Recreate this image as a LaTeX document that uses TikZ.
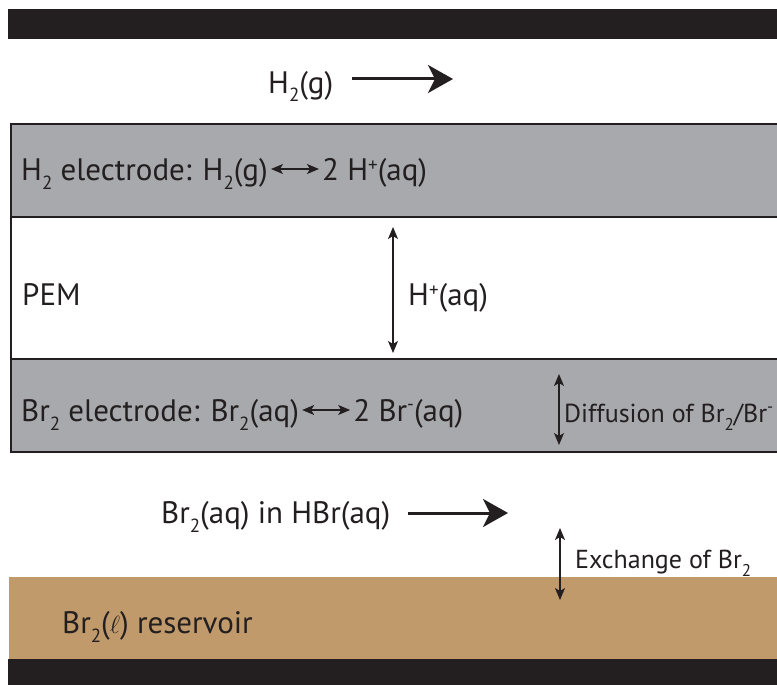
\documentclass[tikz,border=0pt]{standalone}
\usepackage{fontspec}
\setmainfont{PT Sans}
\usetikzlibrary{arrows.meta}
\definecolor{ink}{HTML}{231F20}
\definecolor{elgray}{HTML}{A7A9AC}
\definecolor{tan}{HTML}{C19A6B}
\newcommand\subtwo{\raisebox{-9pt}{\fontsize{19}{19}\selectfont 2}}
\newcommand\subtwos{\raisebox{-8pt}{\fontsize{17}{17}\selectfont 2}}
\newcommand\supplus{\raisebox{9pt}{\fontsize{19}{19}\selectfont +}}
\newcommand\supminus{\raisebox{11pt}{\fontsize{19}{19}\selectfont -}}
\newcommand\supminuss{\raisebox{10pt}{\fontsize{17}{17}\selectfont -}}
\begin{document}
\begin{tikzpicture}[x=1pt,y=-1pt,
  lbl/.style={inner sep=0pt, anchor=base west, text=ink, font=\fontsize{31}{31}\selectfont},
  slbl/.style={inner sep=0pt, anchor=base west, text=ink, font=\fontsize{26}{26}\selectfont},
  bigarr/.style={draw=ink, line width=3pt, -{Stealth[length=25pt,width=28pt,inset=7pt]}},
  dblarr/.style={draw=ink, line width=1.3pt, {Stealth[length=12pt,width=10pt,inset=3pt]}-{Stealth[length=12pt,width=10pt,inset=3pt]}},
  band/.style={fill=elgray, draw=ink, line width=2.5pt}]
\useasboundingbox (0,0) rectangle (777,685);
\begin{scope}
\clip (0,0) rectangle (777,685);
% bars
\fill[ink] (8,9) rectangle (800,39);
\fill[tan] (9,577) rectangle (800,659);
\fill[ink] (8,659) rectangle (800,700);
% electrodes and PEM
\draw[ink, line width=2.5pt] (11,217) -- (11,359);
\draw[band] (11,124) rectangle (800,217);
\draw[band] (11,359) rectangle (800,452);
\end{scope}

% H2 gas
\node[lbl] (h2g) at (268,93) {H\subtwo(g)};
\coordinate (h2a) at (352,79);
\coordinate (h2b) at (453,79);
\draw[bigarr] (h2a) -- (h2b);

% H2 electrode
\node[lbl] (h2l) at (21,180) {H\subtwo\ electrode: H\subtwo(g)};
\node[lbl] (h2r) at ([xshift=54pt]h2l.base east) {2 H\supplus(aq)};
\draw[dblarr] ([xshift=3pt,yshift=11pt]h2l.base east) -- ([xshift=-3pt,yshift=11pt]h2r.base west);

% PEM
\node[lbl] (pem) at (22,305) {PEM};
\node[lbl] (hp) at (408,305) {H\supplus(aq)};
\coordinate (pa) at (393,227);
\coordinate (pb) at (393,353);
\draw[dblarr] (pa) -- (pb);

% Br2 electrode
\node[lbl] (brl) at (21,421) {Br\subtwo\ electrode: Br\subtwo(aq)};
\node[lbl] (brr) at ([xshift=54pt]brl.base east) {2 Br\supminus(aq)};
\draw[dblarr] ([xshift=3pt,yshift=11pt]brl.base east) -- ([xshift=-3pt,yshift=11pt]brr.base west);

\coordinate (da) at (559,374);
\coordinate (db) at (559,445);
\draw[dblarr] (da) -- (db);
\node[slbl] (diff) at (564,422) {Diffusion of Br\subtwos/Br\supminuss};

% Br2 in HBr
\node[lbl] (brh) at (161,523) {Br\subtwo(aq) in HBr(aq)};
\coordinate (ba) at (408,513);
\coordinate (bb) at (508,513);
\draw[bigarr] (ba) -- (bb);

\coordinate (ea) at (560,528);
\coordinate (eb) at (560,600);
\draw[dblarr] (ea) -- (eb);
\node[slbl] (exch) at (575,568) {Exchange of Br\subtwos};

% reservoir
\node[lbl] (res) at (62,633) {Br\subtwo($\ell$) reservoir};
\end{tikzpicture}
\end{document}
